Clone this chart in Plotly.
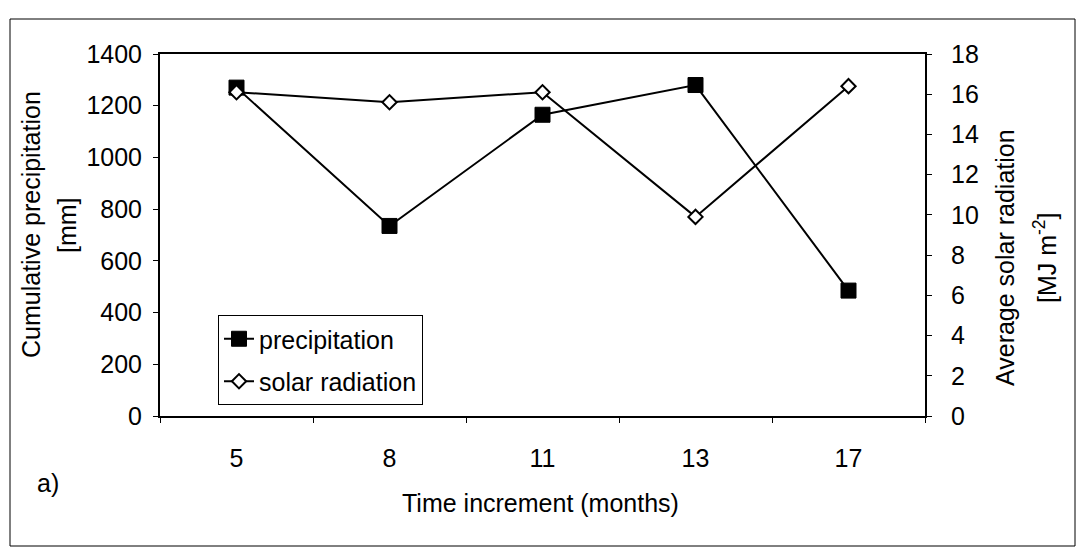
import plotly.graph_objects as go

# Sampling intervals (months) and the two measured series
months = ["5", "8", "11", "13", "17"]
precipitation_mm = [1270, 735, 1165, 1280, 485]
solar_radiation = [16.1, 15.6, 16.1, 9.9, 16.4]

left_ticks = [0, 200, 400, 600, 800, 1000, 1200, 1400]
right_ticks = [0, 2, 4, 6, 8, 10, 12, 14, 16, 18]

FONT = "Arial, Liberation Sans, Helvetica, sans-serif"
FS = 25

W, H = 1077, 558
ML, MR, MT, MB = 160, 152, 54, 142
PW, PH = W - ML - MR, H - MT - MB


def px(x):
    return (x - ML) / PW


def py(y):
    return (H - MB - y) / PH


fig = go.Figure()

fig.add_trace(go.Scatter(
    x=months, y=precipitation_mm, name="precipitation",
    mode="lines+markers", legendgroup="p",
    line=dict(color="black", width=2),
    marker=dict(symbol="square", size=15, color="black",
                line=dict(color="black", width=1)),
    yaxis="y",
))

fig.add_trace(go.Scatter(
    x=months, y=solar_radiation, name="solar radiation",
    mode="lines+markers", legendgroup="s",
    line=dict(color="black", width=2),
    marker=dict(symbol="diamond", size=11, color="white",
                line=dict(color="black", width=2)),
    yaxis="y2",
))

fig.update_layout(
    width=W, height=H,
    margin=dict(l=ML, r=MR, t=MT, b=MB, pad=0),
    paper_bgcolor="white", plot_bgcolor="white",
    font=dict(family=FONT, size=FS, color="black"),
    showlegend=True,
    legend=dict(
        x=px(218), y=py(405), xanchor="left", yanchor="bottom",
        bgcolor="white", bordercolor="black", borderwidth=1,
        font=dict(family=FONT, size=FS, color="black"),
        traceorder="grouped", tracegroupgap=7,
        entrywidth=200, entrywidthmode="pixels",
    ),
    xaxis=dict(
        type="category", range=[-0.5, 4.5],
        tickson="boundaries", ticks="outside", ticklen=5,
        tickcolor="black", tickwidth=1,
        ticklabelstandoff=19,
        showline=True, linecolor="black", linewidth=2, mirror=True,
        showgrid=False, zeroline=False,
        tickfont=dict(family=FONT, size=FS),
    ),
    yaxis=dict(
        range=[0, 1400], tickvals=left_ticks,
        ticks="outside", ticklen=5, tickcolor="black", tickwidth=1,
        ticklabelstandoff=6,
        showline=True, linecolor="black", linewidth=2,
        showgrid=False, zeroline=False,
        tickfont=dict(family=FONT, size=FS),
    ),
    yaxis2=dict(
        range=[0, 18], tickvals=right_ticks,
        overlaying="y", side="right",
        ticks="outside", ticklen=5, tickcolor="black", tickwidth=1,
        ticklabelstandoff=14,
        showline=True, linecolor="black", linewidth=2,
        showgrid=False, zeroline=False,
        tickfont=dict(family=FONT, size=FS),
    ),
)

# Axis titles
annots = [
    dict(text="Cumulative precipitation", x=px(31), y=py(225), textangle=-90),
    dict(text="[mm]", x=px(67), y=py(225), textangle=-90),
    dict(text="Average solar radiation", x=px(1005), y=py(258), textangle=-90),
    dict(text="[MJ m<sup>-2</sup>]", x=px(1045), y=py(258), textangle=-90),
    dict(text="Time increment (months)", x=px(540), y=py(503)),
    dict(text="a)", x=px(48), y=py(483)),
]
for a in annots:
    fig.add_annotation(
        xref="paper", yref="paper", showarrow=False,
        xanchor="center", yanchor="middle",
        font=dict(family=FONT, size=FS, color="black"), **a,
    )

# Outer figure frame
fig.add_shape(
    type="rect", xref="paper", yref="paper",
    x0=px(10), x1=px(1075), y0=py(546), y1=py(19),
    line=dict(color="black", width=1), fillcolor="rgba(0,0,0,0)",
    layer="below",
)

fig.write_html("out.html")
